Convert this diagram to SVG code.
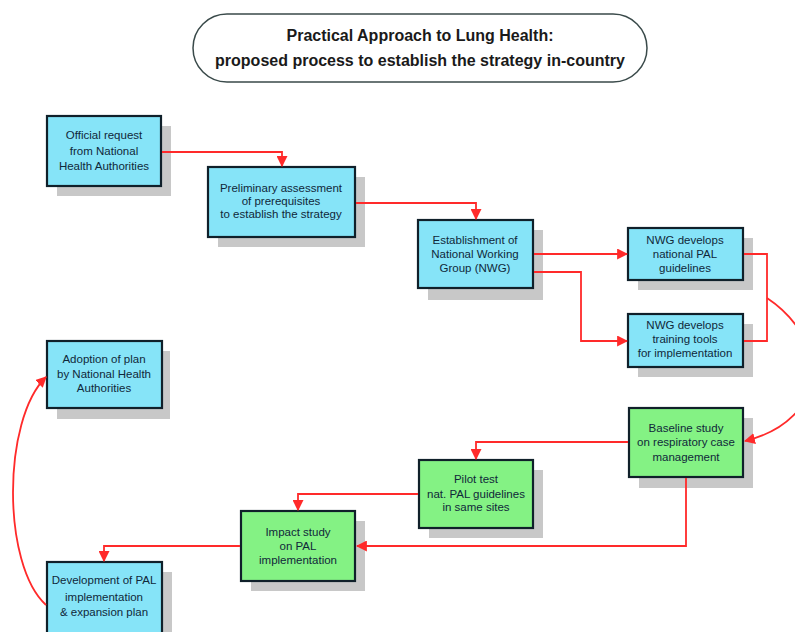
<svg xmlns="http://www.w3.org/2000/svg" width="795" height="632" viewBox="0 0 795 632">
<defs>
<style>
.sh{fill:#c8c8c8}
.b{fill:#86e4f8;stroke:#10202a;stroke-width:2.2}
.g{fill:#84f284;stroke:#10202a;stroke-width:2.2}
.t{font-family:"Liberation Sans",Arial,sans-serif;font-size:11.5px;fill:#10283a;text-anchor:middle}
.tt{font-family:"Liberation Sans",Arial,sans-serif;font-size:16px;font-weight:bold;fill:#1a1a1a;text-anchor:middle}
.c{fill:none;stroke:#ff2a2a;stroke-width:1.8}
</style>
<marker id="ah" viewBox="0 0 10 10" refX="9" refY="5" markerWidth="11" markerHeight="11" markerUnits="userSpaceOnUse" orient="auto">
<path d="M0,0 L10,5 L0,10 Z" fill="#ff2a2a"/>
</marker>
</defs>
<rect width="795" height="632" fill="#fff"/>
<g id="title">
<rect x="193" y="14" width="454" height="68" rx="34" ry="34" fill="#fff" stroke="#3a4a4a" stroke-width="1.5"/>
<text class="tt" x="420" y="41">Practical Approach to Lung Health:</text>
<text class="tt" x="420" y="66">proposed process to establish the strategy in-country</text>
</g>
<g id="n1">
<rect class="sh" x="57" y="126" width="114" height="70"/>
<rect class="b" x="47" y="116" width="114" height="70"/>
<text class="t" x="104" y="139">Official request</text>
<text class="t" x="104" y="155">from National</text>
<text class="t" x="104" y="170">Health Authorities</text>
</g>
<g id="n2">
<rect class="sh" x="218" y="177" width="147" height="70"/>
<rect class="b" x="208" y="167" width="147" height="70"/>
<text class="t" x="281" y="192">Preliminary assessment</text>
<text class="t" x="281" y="205">of prerequisites</text>
<text class="t" x="281" y="218">to establish the strategy</text>
</g>
<g id="n3">
<rect class="sh" x="428" y="230" width="115" height="70"/>
<rect class="b" x="418" y="220" width="115" height="68"/>
<text class="t" x="475" y="244">Establishment of</text>
<text class="t" x="475" y="258">National Working</text>
<text class="t" x="475" y="272">Group (NWG)</text>
</g>
<g id="n4">
<rect class="sh" x="638" y="238" width="115" height="52"/>
<rect class="b" x="628" y="228" width="115" height="52"/>
<text class="t" x="685" y="244">NWG develops</text>
<text class="t" x="685" y="258">national PAL</text>
<text class="t" x="685" y="272">guidelines</text>
</g>
<g id="n5">
<rect class="sh" x="638" y="324" width="115" height="53"/>
<rect class="b" x="628" y="314" width="115" height="53"/>
<text class="t" x="685" y="329">NWG develops</text>
<text class="t" x="685" y="343">training tools</text>
<text class="t" x="685" y="357">for implementation</text>
</g>
<g id="n6">
<rect class="sh" x="639" y="418" width="114" height="70"/>
<rect class="g" x="629" y="408" width="114" height="69"/>
<text class="t" x="686" y="432">Baseline study</text>
<text class="t" x="686" y="446">on respiratory case</text>
<text class="t" x="686" y="461">management</text>
</g>
<g id="n7">
<rect class="sh" x="429" y="470" width="114" height="68"/>
<rect class="g" x="419" y="460" width="114" height="68"/>
<text class="t" x="476" y="483">Pilot test</text>
<text class="t" x="476" y="498">nat. PAL guidelines</text>
<text class="t" x="476" y="511">in same sites</text>
</g>
<g id="n8">
<rect class="sh" x="251" y="521" width="114" height="70"/>
<rect class="g" x="241" y="511" width="114" height="70"/>
<text class="t" x="298" y="536">Impact study</text>
<text class="t" x="298" y="550">on PAL</text>
<text class="t" x="298" y="564">implementation</text>
</g>
<g id="n9">
<rect class="sh" x="57" y="572" width="115" height="70"/>
<rect class="b" x="47" y="562" width="115" height="72"/>
<text class="t" x="104" y="584">Development of PAL</text>
<text class="t" x="104" y="601">implementation</text>
<text class="t" x="104" y="616">&amp; expansion plan</text>
</g>
<g id="n10">
<rect class="sh" x="57" y="351" width="113" height="68"/>
<rect class="b" x="47" y="341" width="115" height="67"/>
<text class="t" x="104" y="363">Adoption of plan</text>
<text class="t" x="104" y="378">by National Health</text>
<text class="t" x="104" y="392">Authorities</text>
</g>
<g id="connectors">
<path class="c" d="M162,152 H282 V166" marker-end="url(#ah)"/>
<path class="c" d="M356,203 H476 V219" marker-end="url(#ah)"/>
<path class="c" d="M534,254 H627" marker-end="url(#ah)"/>
<path class="c" d="M534,272 H581 V341 H627" marker-end="url(#ah)"/>
<path class="c" d="M744,254 H767 V341 H744"/>
<path class="c" d="M767,298 C830,340 830,420 745,441" marker-end="url(#ah)"/>
<path class="c" d="M628,442 H476 V459" marker-end="url(#ah)"/>
<path class="c" d="M418,494 H298 V510" marker-end="url(#ah)"/>
<path class="c" d="M686,478 V546 H357" marker-end="url(#ah)"/>
<path class="c" d="M240,546 H104 V561" marker-end="url(#ah)"/>
<path class="c" d="M46,605 C2,565 2,420 46,377" marker-end="url(#ah)"/>
</g>
</svg>
